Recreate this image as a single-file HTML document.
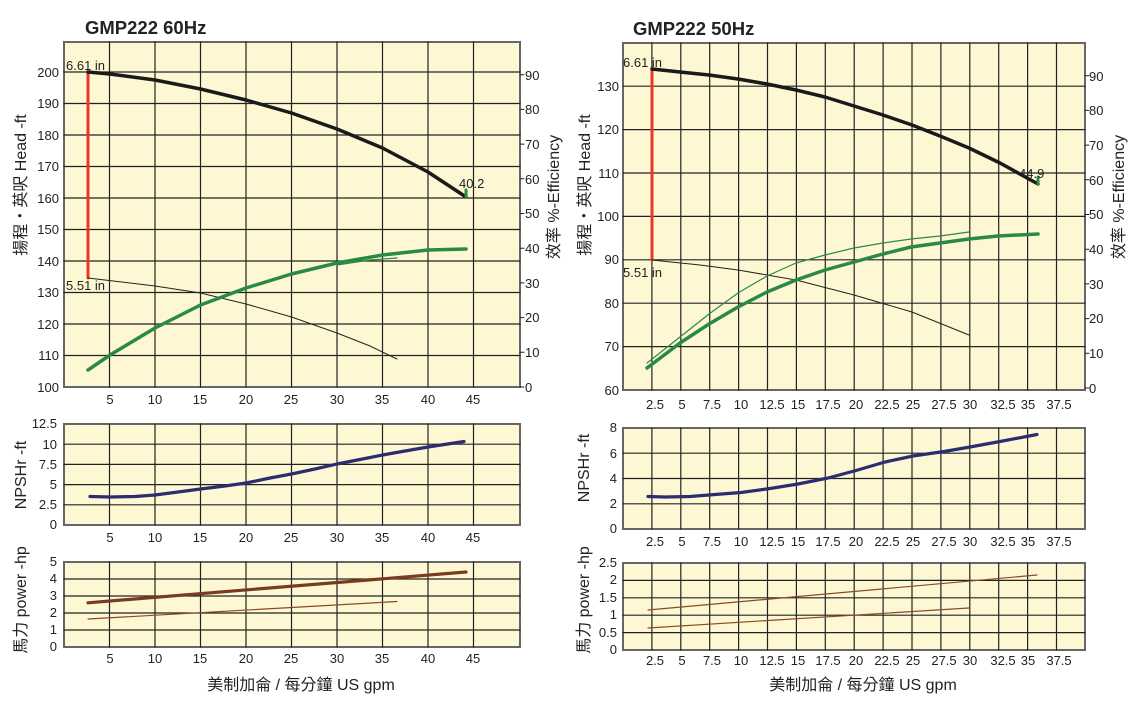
<!DOCTYPE html>
<html><head><meta charset="utf-8"><style>
html,body{margin:0;padding:0;background:#fff;}
svg{display:block;}
text{font-family:"Liberation Sans","Noto Sans CJK TC",sans-serif;fill:#222;}
.t{font-size:13px;}
.b{fill:#fdf8d3;stroke:#666;stroke-width:2;}
.g{stroke:#222;stroke-width:1.2;fill:none;}
path{stroke-linejoin:round;stroke-linecap:round;}
</style></head><body>
<svg width="1137" height="722" viewBox="0 0 1137 722" xmlns="http://www.w3.org/2000/svg">
<!-- ===== LEFT 60Hz ===== -->
<text x="85" y="34" style="font-size:18.5px;font-weight:bold;fill:#222">GMP222  60Hz</text>
<rect class="b" x="64" y="42" width="456" height="345"/>
<path class="g" d="M109.5 42V387M155 42V387M200.5 42V387M246 42V387M291.5 42V387M337 42V387M382.5 42V387M428 42V387M473.5 42V387
M64 355.5H520M64 324H520M64 292.5H520M64 261H520M64 229.5H520M64 198H520M64 166.5H520M64 135H520M64 103.5H520M64 72H520"/>
<g class="t" text-anchor="end">
<text x="59" y="392">100</text><text x="59" y="360">110</text><text x="59" y="329">120</text><text x="59" y="297">130</text><text x="59" y="266">140</text><text x="59" y="234">150</text><text x="59" y="203">160</text><text x="59" y="171">170</text><text x="59" y="140">180</text><text x="59" y="108">190</text><text x="59" y="77">200</text>
</g>
<path d="M520 387h4M520 352.3h4M520 317.6h4M520 282.9h4M520 248.2h4M520 213.5h4M520 178.8h4M520 144.1h4M520 109.4h4M520 74.7h4" stroke="#222" stroke-width="1"/>
<g class="t">
<text x="525" y="392">0</text><text x="525" y="357">10</text><text x="525" y="322">20</text><text x="525" y="288">30</text><text x="525" y="253">40</text><text x="525" y="218">50</text><text x="525" y="184">60</text><text x="525" y="149">70</text><text x="525" y="114">80</text><text x="525" y="80">90</text>
</g>
<g class="t" text-anchor="middle">
<text x="110" y="404">5</text><text x="155" y="404">10</text><text x="200" y="404">15</text><text x="246" y="404">20</text><text x="291" y="404">25</text><text x="337" y="404">30</text><text x="382" y="404">35</text><text x="428" y="404">40</text><text x="473" y="404">45</text>
</g>
<text transform="translate(26,185) rotate(-90)" text-anchor="middle" style="font-size:16px">揚程・英呎  Head -ft</text>
<text transform="translate(559,197) rotate(-90)" text-anchor="middle" style="font-size:16px">效率  %-Efficiency</text>
<path d="M88 278L88 72" stroke="#e8382a" stroke-width="3"/>
<path d="M88 72L110 74L155 80L200.5 89L246 100L291.5 113L337 129L382.5 148L428 172L466 197" stroke="#1a1a1a" stroke-width="3.5" fill="none"/>
<path d="M466 190V197" stroke="#2a8a45" stroke-width="3"/>
<path d="M88 278L155 286L200.5 293L246 304L291.5 317L337 333L370 346L397 359" stroke="#222" stroke-width="1" fill="none"/>
<path d="M337 265L370 260L397 258" stroke="#2a8a45" stroke-width="1.2" fill="none"/>
<path d="M88 370L110 355L155 328L200.5 305L246 288L291.5 274L337 263L382.5 255L428 250L466 249" stroke="#2a8a45" stroke-width="3.5" fill="none"/>
<text x="66" y="70" class="t">6.61 in</text>
<text x="66" y="290" class="t">5.51 in</text>
<text x="459" y="188" class="t">40.2</text>
<!-- NPSH left -->
<rect class="b" x="64" y="424" width="456" height="101"/>
<path class="g" d="M109.5 424V525M155 424V525M200.5 424V525M246 424V525M291.5 424V525M337 424V525M382.5 424V525M428 424V525M473.5 424V525M64 444.2H520M64 464.4H520M64 484.6H520M64 504.8H520"/>
<g class="t" text-anchor="end">
<text x="57" y="529">0</text><text x="57" y="509">2.5</text><text x="57" y="489">5</text><text x="57" y="469">7.5</text><text x="57" y="449">10</text><text x="57" y="428">12.5</text>
</g>
<g class="t" text-anchor="middle">
<text x="110" y="542">5</text><text x="155" y="542">10</text><text x="200" y="542">15</text><text x="246" y="542">20</text><text x="291" y="542">25</text><text x="337" y="542">30</text><text x="382" y="542">35</text><text x="428" y="542">40</text><text x="473" y="542">45</text>
</g>
<text transform="translate(26,475) rotate(-90)" text-anchor="middle" style="font-size:16px">NPSHr -ft</text>
<path d="M90 496.5L110 497L135 496.5L155 495L178 492L200.5 489L225 486L246 483L270 478L291.5 474L315 469L337 464L360 459.5L382.5 455L405 451L428 447L464 441.5" stroke="#2b2d6e" stroke-width="3.2" fill="none"/>
<!-- power left -->
<rect class="b" x="64" y="562" width="456" height="85"/>
<path class="g" d="M109.5 562V647M155 562V647M200.5 562V647M246 562V647M291.5 562V647M337 562V647M382.5 562V647M428 562V647M473.5 562V647M64 579H520M64 596H520M64 613H520M64 630H520"/>
<g class="t" text-anchor="end">
<text x="57" y="651">0</text><text x="57" y="634">1</text><text x="57" y="617">2</text><text x="57" y="600">3</text><text x="57" y="583">4</text><text x="57" y="566">5</text>
</g>
<g class="t" text-anchor="middle">
<text x="110" y="663">5</text><text x="155" y="663">10</text><text x="200" y="663">15</text><text x="246" y="663">20</text><text x="291" y="663">25</text><text x="337" y="663">30</text><text x="382" y="663">35</text><text x="428" y="663">40</text><text x="473" y="663">45</text>
</g>
<text transform="translate(26,600) rotate(-90)" text-anchor="middle" style="font-size:16px">馬力  power -hp</text>
<path d="M88 602.8L466 572" stroke="#7a3a20" stroke-width="3.2"/>
<path d="M88 619L397 601.5" stroke="#8a4a2a" stroke-width="1.2"/>
<text x="301" y="690" text-anchor="middle" style="font-size:16px">美制加侖 / 每分鐘  US gpm</text>

<!-- ===== RIGHT 50Hz ===== -->
<text x="633" y="35" style="font-size:18.5px;font-weight:bold;fill:#222">GMP222  50Hz</text>
<rect class="b" x="623" y="43" width="462" height="347"/>
<path class="g" d="M651.9 43V390M680.8 43V390M709.7 43V390M738.6 43V390M767.5 43V390M796.4 43V390M825.3 43V390M854.2 43V390M883.1 43V390M912 43V390M940.9 43V390M969.8 43V390M998.7 43V390M1027.6 43V390M1056.5 43V390
M623 346.6H1085M623 303.2H1085M623 259.8H1085M623 216.4H1085M623 173H1085M623 129.6H1085M623 86.2H1085"/>
<g class="t" text-anchor="end">
<text x="619" y="395">60</text><text x="619" y="351">70</text><text x="619" y="308">80</text><text x="619" y="264">90</text><text x="619" y="221">100</text><text x="619" y="178">110</text><text x="619" y="134">120</text><text x="619" y="91">130</text>
</g>
<path d="M1085 388h4M1085 353.3h4M1085 318.6h4M1085 283.9h4M1085 249.2h4M1085 214.5h4M1085 179.8h4M1085 145.1h4M1085 110.4h4M1085 75.7h4" stroke="#222" stroke-width="1"/>
<g class="t">
<text x="1089" y="393">0</text><text x="1089" y="358">10</text><text x="1089" y="323">20</text><text x="1089" y="289">30</text><text x="1089" y="254">40</text><text x="1089" y="219">50</text><text x="1089" y="185">60</text><text x="1089" y="150">70</text><text x="1089" y="115">80</text><text x="1089" y="81">90</text>
</g>
<g class="t" text-anchor="middle">
<text x="655" y="409">2.5</text><text x="682" y="409">5</text><text x="712" y="409">7.5</text><text x="741" y="409">10</text><text x="772" y="409">12.5</text><text x="798" y="409">15</text><text x="828" y="409">17.5</text><text x="856" y="409">20</text><text x="887" y="409">22.5</text><text x="913" y="409">25</text><text x="944" y="409">27.5</text><text x="970" y="409">30</text><text x="1003" y="409">32.5</text><text x="1028" y="409">35</text><text x="1059" y="409">37.5</text>
</g>
<text transform="translate(590,185) rotate(-90)" text-anchor="middle" style="font-size:16px">揚程・英呎  Head -ft</text>
<text transform="translate(1124,197) rotate(-90)" text-anchor="middle" style="font-size:16px">效率  %-Efficiency</text>
<path d="M652 260L652 69" stroke="#e8382a" stroke-width="3"/>
<path d="M652 69L680 72L709 75L738 79L767 84L796 90L825 97L854 106L883 115L912 125L940 136L969 148L1000 163L1038 184" stroke="#1a1a1a" stroke-width="3.5" fill="none"/>
<path d="M1038 177V184" stroke="#2a8a45" stroke-width="3"/>
<path d="M652 260L700 265L738 270L796 280L854 295L912 312L969 335" stroke="#222" stroke-width="1" fill="none"/>
<path d="M647 363L680 337L709 314L738 293L767 276L796 263L825 255L854 248L883 243L911 239L940 236L969 232" stroke="#2a8a45" stroke-width="1.2" fill="none"/>
<path d="M647 368L680 343L709 324L738 307L767 292L796 280L825 270L854 262L883 254L911 247L940 243L969 239L998 236L1038 234" stroke="#2a8a45" stroke-width="3.5" fill="none"/>
<text x="623" y="67" class="t">6.61 in</text>
<text x="623" y="277" class="t">5.51 in</text>
<text x="1019" y="178" class="t">44.9</text>
<!-- NPSH right -->
<rect class="b" x="623" y="428" width="462" height="101"/>
<path class="g" d="M651.9 428V529M680.8 428V529M709.7 428V529M738.6 428V529M767.5 428V529M796.4 428V529M825.3 428V529M854.2 428V529M883.1 428V529M912 428V529M940.9 428V529M969.8 428V529M998.7 428V529M1027.6 428V529M1056.5 428V529M623 453.2H1085M623 478.5H1085M623 503.8H1085"/>
<g class="t" text-anchor="end">
<text x="617" y="533">0</text><text x="617" y="508">2</text><text x="617" y="483">4</text><text x="617" y="458">6</text><text x="617" y="432">8</text>
</g>
<g class="t" text-anchor="middle">
<text x="655" y="546">2.5</text><text x="682" y="546">5</text><text x="712" y="546">7.5</text><text x="741" y="546">10</text><text x="772" y="546">12.5</text><text x="798" y="546">15</text><text x="828" y="546">17.5</text><text x="856" y="546">20</text><text x="887" y="546">22.5</text><text x="913" y="546">25</text><text x="944" y="546">27.5</text><text x="970" y="546">30</text><text x="1003" y="546">32.5</text><text x="1028" y="546">35</text><text x="1059" y="546">37.5</text>
</g>
<text transform="translate(589,468) rotate(-90)" text-anchor="middle" style="font-size:16px">NPSHr -ft</text>
<path d="M648 496.5L665 497L690 496.5L715 494.5L741 492.5L770 488.5L798 484L828 478L856 470.5L885 462L913 456L944 451.5L970 447L1000 441.5L1037 434.5" stroke="#2b2d6e" stroke-width="3.2" fill="none"/>
<!-- power right -->
<rect class="b" x="623" y="563" width="462" height="87"/>
<path class="g" d="M651.9 563V650M680.8 563V650M709.7 563V650M738.6 563V650M767.5 563V650M796.4 563V650M825.3 563V650M854.2 563V650M883.1 563V650M912 563V650M940.9 563V650M969.8 563V650M998.7 563V650M1027.6 563V650M1056.5 563V650M623 580.4H1085M623 597.8H1085M623 615.2H1085M623 632.6H1085"/>
<g class="t" text-anchor="end">
<text x="617" y="654">0</text><text x="617" y="637">0.5</text><text x="617" y="619">1</text><text x="617" y="602">1.5</text><text x="617" y="584">2</text><text x="617" y="567">2.5</text>
</g>
<g class="t" text-anchor="middle">
<text x="655" y="665">2.5</text><text x="682" y="665">5</text><text x="712" y="665">7.5</text><text x="741" y="665">10</text><text x="772" y="665">12.5</text><text x="798" y="665">15</text><text x="828" y="665">17.5</text><text x="856" y="665">20</text><text x="887" y="665">22.5</text><text x="913" y="665">25</text><text x="944" y="665">27.5</text><text x="970" y="665">30</text><text x="1003" y="665">32.5</text><text x="1028" y="665">35</text><text x="1059" y="665">37.5</text>
</g>
<text transform="translate(589,600) rotate(-90)" text-anchor="middle" style="font-size:16px">馬力  power -hp</text>
<path d="M648 610L1037 575" stroke="#8a4a2a" stroke-width="1.2"/>
<path d="M648 628L969 608" stroke="#8a4a2a" stroke-width="1.2"/>
<text x="863" y="690" text-anchor="middle" style="font-size:16px">美制加侖 / 每分鐘  US gpm</text>
</svg>
</body></html>
